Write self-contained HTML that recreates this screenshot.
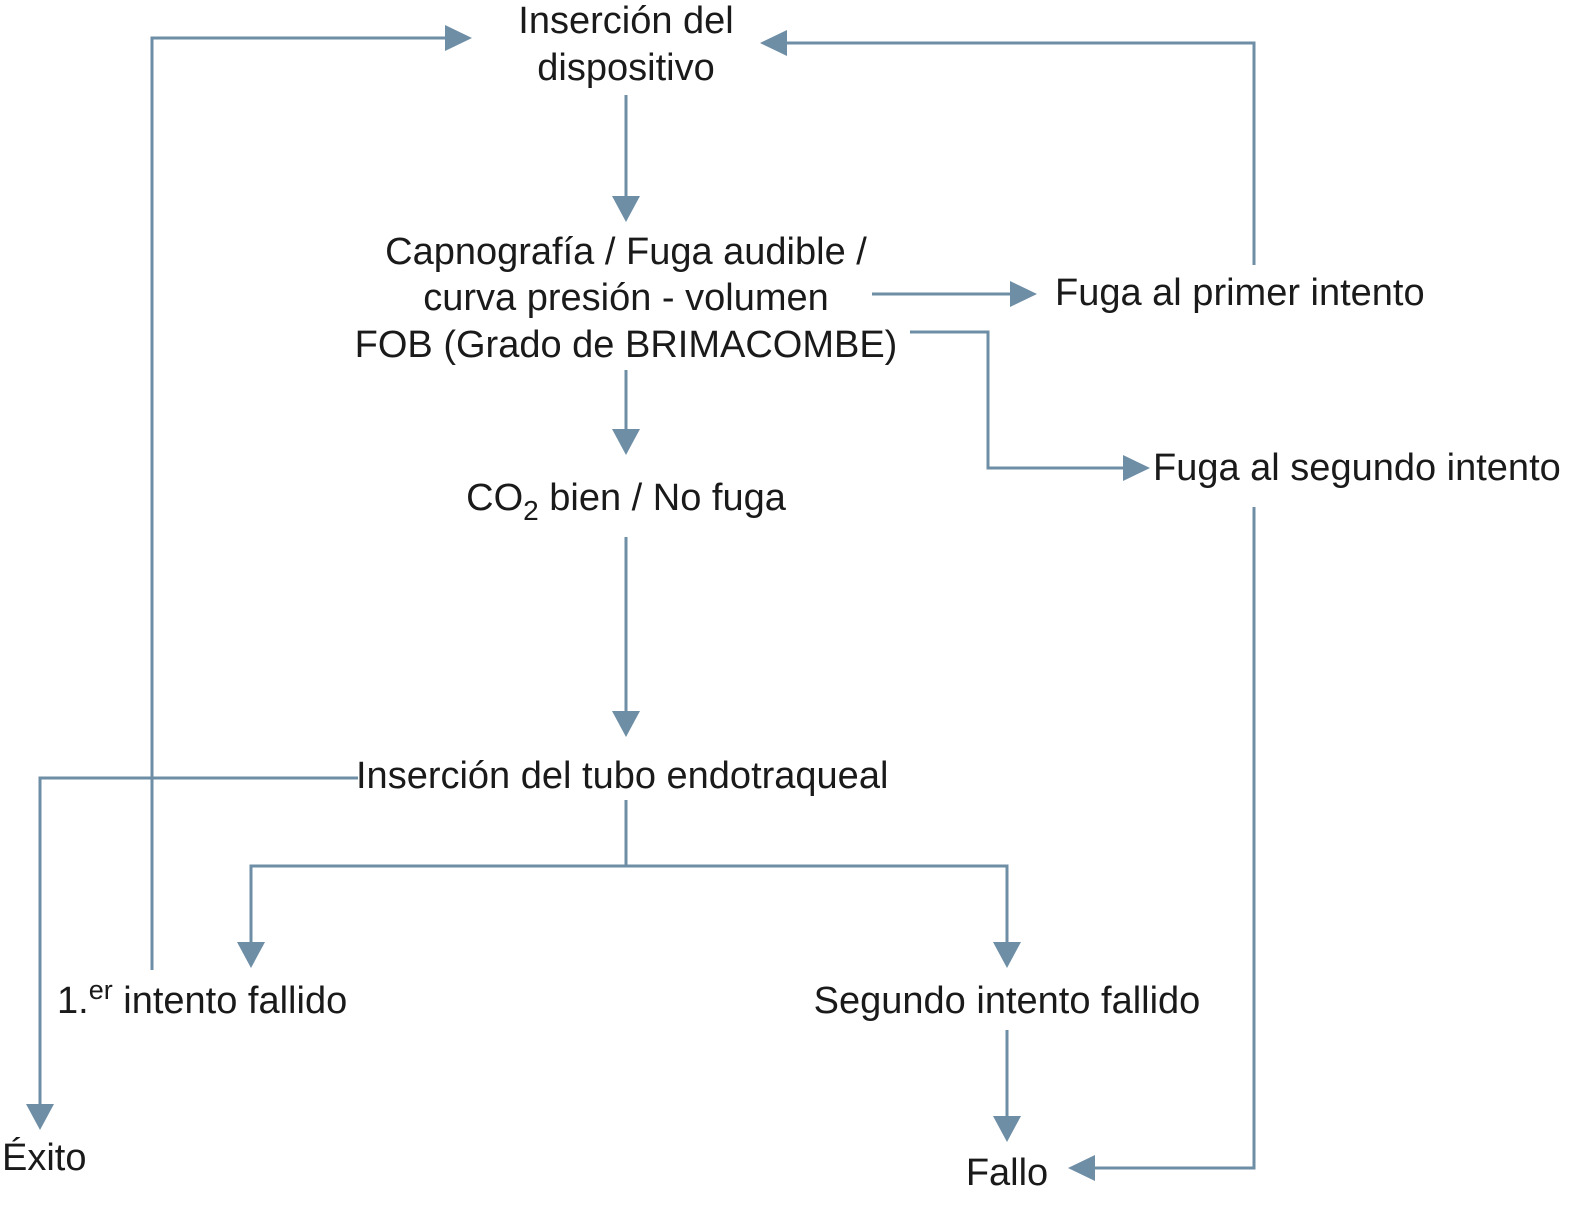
<!DOCTYPE html>
<html><head><meta charset="utf-8"><style>
html,body{margin:0;padding:0;background:#fff;}
svg{display:block;}
text{font-family:"Liberation Sans",Arial,sans-serif;font-size:38px;fill:#1a1a1a;}
</style></head><body>
<svg width="1583" height="1205" viewBox="0 0 1583 1205" xmlns="http://www.w3.org/2000/svg">
<g stroke="#6e8ea6" stroke-width="3" fill="none">
<polyline points="152,970 152,38 448,38"/>
<polyline points="1254,265 1254,43 786,43"/>
<line x1="626" y1="95" x2="626" y2="198"/>
<line x1="872" y1="294" x2="1012" y2="294"/>
<polyline points="910,332 988,332 988,468 1126,468"/>
<line x1="626" y1="370" x2="626" y2="430"/>
<line x1="626" y1="537" x2="626" y2="712"/>
<polyline points="358,778 40,778 40,1105"/>
<line x1="626" y1="800" x2="626" y2="866"/>
<polyline points="251,944 251,866 1007,866 1007,944"/>
<line x1="1007" y1="1030" x2="1007" y2="1118"/>
<polyline points="1254,507 1254,1168 1094,1168"/>
</g>
<g fill="#6e8ea6">
<polygon points="472,38 445,25 445,51"/>
<polygon points="760,43 787,30 787,56"/>
<polygon points="626,222 612,196 640,196"/>
<polygon points="1037,294 1010,281 1010,307"/>
<polygon points="1150,468 1123,455 1123,481"/>
<polygon points="626,455 612,429 640,429"/>
<polygon points="626,737 612,711 640,711"/>
<polygon points="40,1130 26,1104 54,1104"/>
<polygon points="251,968 237,942 265,942"/>
<polygon points="1007,968 993,942 1021,942"/>
<polygon points="1007,1142 993,1116 1021,1116"/>
<polygon points="1068,1168 1095,1155 1095,1181"/>
</g>
<g text-anchor="middle">
<text x="626" y="33">Inserción del</text>
<text x="626" y="80">dispositivo</text>
<text x="626" y="264">Capnografía / Fuga audible /</text>
<text x="626" y="310">curva presión - volumen</text>
<text x="626" y="357">FOB (Grado de BRIMACOMBE)</text>
<text x="626" y="510">CO<tspan font-size="28" dy="10">2</tspan><tspan dy="-10"> bien / No fuga</tspan></text>
<text x="1007" y="1013">Segundo intento fallido</text>
<text x="1007" y="1185">Fallo</text>
</g>
<text x="356" y="788">Inserción del tubo endotraqueal</text>
<text x="1055" y="305">Fuga al primer intento</text>
<text x="1153" y="480">Fuga al segundo intento</text>
<text x="57" y="1013">1.<tspan font-size="27" dy="-14">er</tspan><tspan dy="14"> intento fallido</tspan></text>
<text x="2" y="1170">Éxito</text>
</svg>
</body></html>
